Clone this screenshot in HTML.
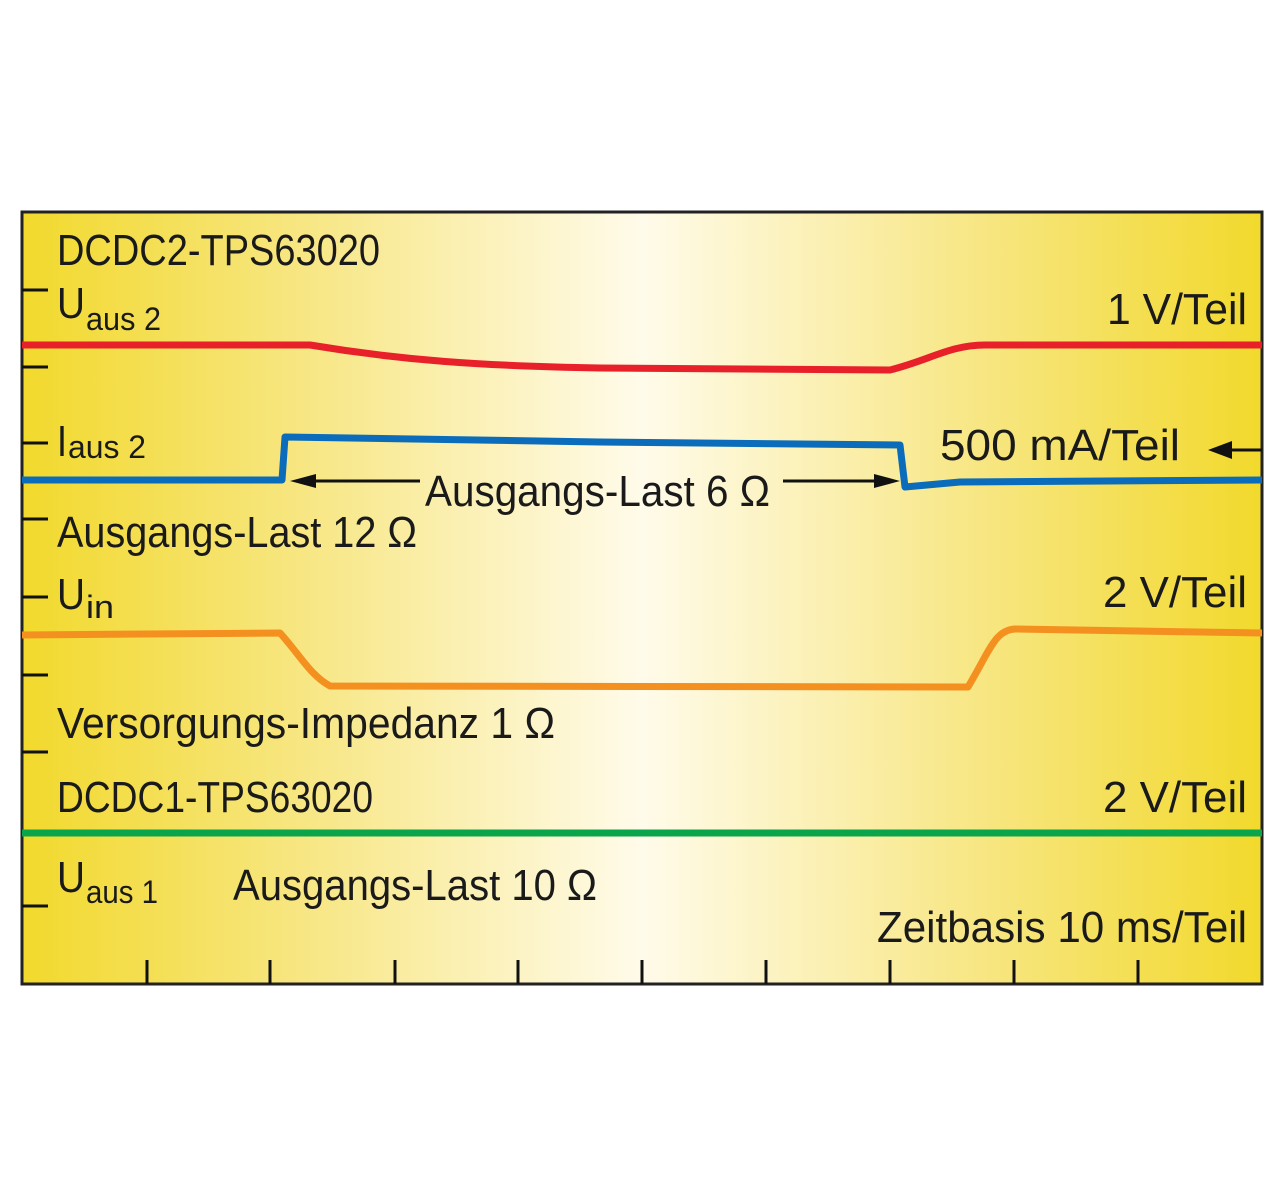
<!DOCTYPE html>
<html><head><meta charset="utf-8"><style>html,body{margin:0;padding:0;background:#fff}</style></head>
<body>
<svg width="1280" height="1190" viewBox="0 0 1280 1190" xmlns="http://www.w3.org/2000/svg">
<defs>
<linearGradient id="bg" x1="0" x2="1" y1="0" y2="0">
<stop offset="0" stop-color="#f2d92c"/>
<stop offset="0.22" stop-color="#f7e680"/>
<stop offset="0.5" stop-color="#fffbea"/>
<stop offset="0.78" stop-color="#f7e680"/>
<stop offset="1" stop-color="#f2d92c"/>
</linearGradient>
</defs>
<rect x="22" y="212" width="1240" height="772" fill="url(#bg)" stroke="#222" stroke-width="3"/>
<g stroke="#111" stroke-width="3">
<line x1="22" y1="290" x2="48" y2="290"/><line x1="22" y1="367" x2="48" y2="367"/>
<line x1="22" y1="443" x2="48" y2="443"/><line x1="22" y1="519" x2="48" y2="519"/>
<line x1="22" y1="597" x2="48" y2="597"/><line x1="22" y1="675" x2="48" y2="675"/>
<line x1="22" y1="752" x2="48" y2="752"/><line x1="22" y1="906" x2="48" y2="906"/>
<line x1="147" y1="960" x2="147" y2="984"/><line x1="270" y1="960" x2="270" y2="984"/>
<line x1="395" y1="960" x2="395" y2="984"/><line x1="518" y1="960" x2="518" y2="984"/>
<line x1="642" y1="960" x2="642" y2="984"/><line x1="766" y1="960" x2="766" y2="984"/>
<line x1="890" y1="960" x2="890" y2="984"/><line x1="1014" y1="960" x2="1014" y2="984"/>
<line x1="1138" y1="960" x2="1138" y2="984"/>
<line x1="1262" y1="450" x2="1225" y2="450"/>
<line x1="305" y1="481" x2="420" y2="481"/><line x1="783" y1="481" x2="885" y2="481"/>
</g>
<g fill="#111">
<polygon points="1208,450 1232,441 1232,459"/>
<polygon points="290,481 316,474 316,488"/>
<polygon points="900,481 874,474 874,488"/>
</g>
<g fill="none" stroke-width="7" stroke-linejoin="round">
<path d="M22,345 L310,345 C400,360 480,366 600,368 L890,370 C930,360 950,345 985,345 L1262,345" stroke="#e8202a"/>
<path d="M22,480 L282,480 L285,437 L600,442 L900,445 L905,487 L960,482 L1262,480" stroke="#0a6cba"/>
<path d="M22,635 L280,633 C300,655 310,675 330,686 L968,687 C990,650 995,630 1015,629 L1262,633" stroke="#f49020"/>
<path d="M22,833 L1262,833" stroke="#0aa54a"/>
</g>
<g font-family="'Liberation Sans Narrow','Liberation Sans',sans-serif" font-size="44" fill="#1a1a1a">
<text x="57" y="265" textLength="323" lengthAdjust="spacingAndGlyphs">DCDC2-TPS63020</text>
<text x="57" y="318" textLength="28" lengthAdjust="spacingAndGlyphs">U</text>
<text x="86" y="330" font-size="32" textLength="75" lengthAdjust="spacingAndGlyphs">aus 2</text>
<text x="1107" y="324" textLength="140" lengthAdjust="spacingAndGlyphs">1 V/Teil</text>
<text x="57" y="456" textLength="10" lengthAdjust="spacingAndGlyphs">I</text>
<text x="68" y="458" font-size="32" textLength="78" lengthAdjust="spacingAndGlyphs">aus 2</text>
<text x="940" y="460" textLength="240" lengthAdjust="spacingAndGlyphs">500 mA/Teil</text>
<text x="425" y="506" textLength="345" lengthAdjust="spacingAndGlyphs">Ausgangs-Last 6 Ω</text>
<text x="57" y="547" textLength="360" lengthAdjust="spacingAndGlyphs">Ausgangs-Last 12 Ω</text>
<text x="57" y="609" textLength="28" lengthAdjust="spacingAndGlyphs">U</text>
<text x="86" y="618" font-size="32" textLength="28" lengthAdjust="spacingAndGlyphs">in</text>
<text x="1103" y="607" textLength="144" lengthAdjust="spacingAndGlyphs">2 V/Teil</text>
<text x="57" y="738" textLength="498" lengthAdjust="spacingAndGlyphs">Versorgungs-Impedanz 1 Ω</text>
<text x="57" y="812" textLength="316" lengthAdjust="spacingAndGlyphs">DCDC1-TPS63020</text>
<text x="1103" y="812" textLength="144" lengthAdjust="spacingAndGlyphs">2 V/Teil</text>
<text x="57" y="892" textLength="28" lengthAdjust="spacingAndGlyphs">U</text>
<text x="86" y="903" font-size="32" textLength="72" lengthAdjust="spacingAndGlyphs">aus 1</text>
<text x="233" y="900" textLength="364" lengthAdjust="spacingAndGlyphs">Ausgangs-Last 10 Ω</text>
<text x="877" y="942" textLength="370" lengthAdjust="spacingAndGlyphs">Zeitbasis 10 ms/Teil</text>
</g>
</svg>
</body></html>
